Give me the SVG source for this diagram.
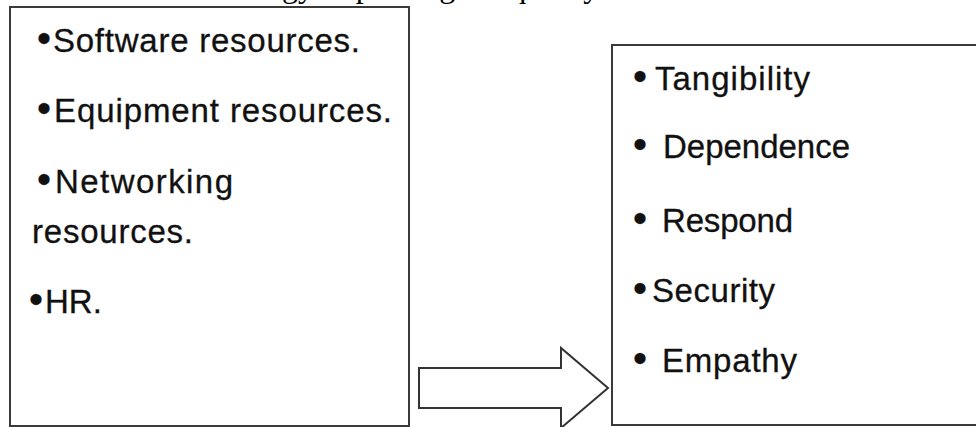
<svg xmlns="http://www.w3.org/2000/svg" width="976" height="427" viewBox="0 0 976 427">
<style>
.box{fill:#fff;stroke:#3a3a3a;stroke-width:2}
.t{font-family:"Liberation Sans",Arial,sans-serif;font-size:33px;fill:#111;stroke:#111;stroke-width:0.3}
.b{font-size:40px}
.top{font-family:"Liberation Serif","Times New Roman",serif;font-size:32px;fill:#000}
.arrow{fill:#fff;stroke:#333;stroke-width:2;stroke-linejoin:miter}
</style>
<rect width="976" height="427" fill="#fff"/>
<text class="top" x="241" y="-3">ology improving the quality</text>
<g id="resources">
<rect class="box" x="10" y="7" width="399" height="419"/>
<text class="t" y="52"><tspan class="b" x="37">•</tspan><tspan x="53" textLength="307">Software resources.</tspan></text>
<text class="t" y="122"><tspan class="b" x="37">•</tspan><tspan x="54" textLength="338">Equipment resources.</tspan></text>
<text class="t" y="193"><tspan class="b" x="37">•</tspan><tspan x="55" textLength="178">Networking</tspan></text>
<text class="t" y="243" x="32" textLength="161">resources.</text>
<text class="t" y="313"><tspan class="b" x="29">•</tspan><tspan x="45">HR.</tspan></text>
</g>
<g id="quality">
<rect class="box" x="612" y="45" width="380" height="380"/>
<text class="t" y="90"><tspan class="b" x="633">•</tspan><tspan x="655" textLength="155">Tangibility</tspan></text>
<text class="t" y="158"><tspan class="b" x="633">•</tspan><tspan x="663" textLength="187">Dependence</tspan></text>
<text class="t" y="232"><tspan class="b" x="633">•</tspan><tspan x="662" textLength="131">Respond</tspan></text>
<text class="t" y="302"><tspan class="b" x="633">•</tspan><tspan x="652" textLength="123">Security</tspan></text>
<text class="t" y="372"><tspan class="b" x="633">•</tspan><tspan x="662" textLength="135">Empathy</tspan></text>
</g>
<g id="connectors">
<polygon class="arrow" points="419,368 561,368 561,348 608,388 561,428 561,408 419,408"/>
</g>
</svg>
